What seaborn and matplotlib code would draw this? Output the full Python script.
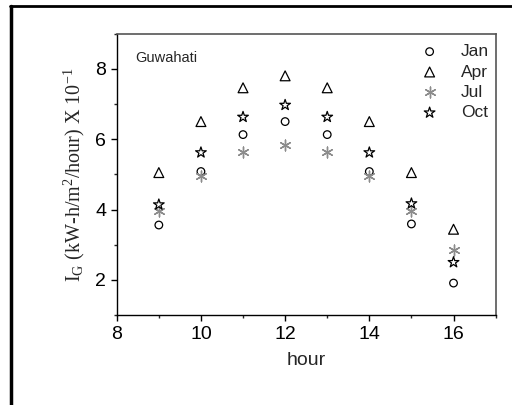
import numpy as np
import pandas as pd
import matplotlib
matplotlib.use("Agg")
import matplotlib.pyplot as plt
import seaborn as sns
from matplotlib.lines import Line2D

# Hourly global irradiance at Guwahati (x 10^-1 kW-h/m^2/hour)
hours = [9, 10, 11, 12, 13, 14, 15, 16]
jan = [3.56, 5.08, 6.13, 6.50, 6.13, 5.08, 3.59, 1.91]
apr = [5.05, 6.50, 7.46, 7.80, 7.46, 6.50, 5.05, 3.44]
jul = [3.97, 4.96, 5.63, 5.84, 5.63, 4.96, 3.97, 2.85]
octo = [4.14, 5.62, 6.63, 6.97, 6.63, 5.62, 4.17, 2.50]

sns.set_style("ticks")
plt.rcParams["font.family"] = ["Liberation Sans", "DejaVu Sans"]
plt.rcParams["mathtext.default"] = "regular"

fig = plt.figure(figsize=(5.12, 4.05), dpi=100)
ax = fig.add_axes([0.228, 0.222, 0.740, 0.695])

df = pd.DataFrame({"hour": hours, "Jan": jan, "Apr": apr, "Jul": jul, "Oct": octo})

sns.scatterplot(data=df, x="hour", y="Jan", ax=ax, marker="o", s=30,
                facecolor="none", edgecolor="black", linewidth=0.9, label="Jan")
sns.scatterplot(data=df, x="hour", y="Apr", ax=ax, marker="^", s=50,
                facecolor="none", edgecolor="black", linewidth=0.9, label="Apr")
sns.scatterplot(data=df, x="hour", y="Jul", ax=ax, marker=(6, 2, 0), s=60,
                color="#8c8c8c", linewidth=1.0, label="Jul")
sns.scatterplot(data=df, x="hour", y="Oct", ax=ax, marker="*", s=65,
                facecolor="none", edgecolor="black", linewidth=0.9, label="Oct")

ax.set_xlim(8, 17)
ax.set_ylim(1, 9)
ax.set_xticks([8, 10, 12, 14, 16])
ax.set_xticks(np.arange(8, 18, 1), minor=True)
ax.set_yticks([2, 4, 6, 8])
ax.set_yticks(np.arange(1, 10, 1), minor=True)
ax.tick_params(which="major", direction="out", length=4, width=1, labelsize=14, colors="black")
ax.tick_params(which="minor", direction="out", length=2.5, width=1)
for side in ["left", "bottom"]:
    ax.spines[side].set_color("black")
    ax.spines[side].set_linewidth(1.0)
for side in ["top", "right"]:
    ax.spines[side].set_color("#555555")
    ax.spines[side].set_linewidth(1.2)

ax.set_xlabel("hour", fontsize=14, labelpad=7)
ax.set_ylabel(r"I$_G$ (kW-h/m$^2$/hour) X 10$^{-1}$", fontsize=14.5,
              family=["Liberation Serif", "DejaVu Serif"], labelpad=6)
ax.text(0.05, 0.915, "Guwahati", transform=ax.transAxes, fontsize=10.5, va="center")

ax.legend(loc="upper right", bbox_to_anchor=(1.01, 1.0), frameon=False, fontsize=12.5,
          labelspacing=0.3, handletextpad=1.2, borderaxespad=0.2, handlelength=1.2)

# outer frame lines (top and left)
fig.add_artist(Line2D([11 / 512, 11 / 512], [0, 1 - 6 / 405], color="black", linewidth=2.5,
                      transform=fig.transFigure))
fig.add_artist(Line2D([10 / 512, 1], [1 - 6 / 405, 1 - 6 / 405], color="black", linewidth=2.0,
                      transform=fig.transFigure))

fig.savefig("out.png", dpi=100, facecolor="white")
